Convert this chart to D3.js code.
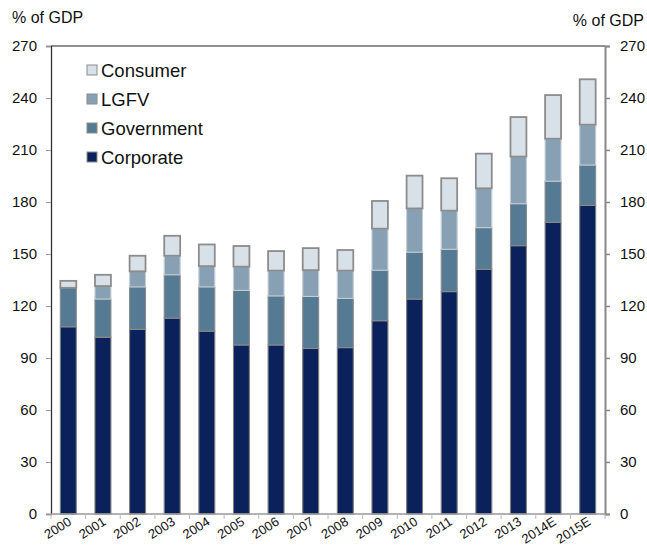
<!DOCTYPE html>
<html>
<head>
<meta charset="utf-8">
<script src="https://cdn.jsdelivr.net/npm/d3@7"></script>
<style>
  body { margin: 0; background: #fff; }
  text { font-family: "Liberation Sans", Arial, sans-serif; fill: #111; }
</style>
</head>
<body>
<div id="chart"></div>
<script>
// categories and series (% of GDP)
let years = ["2000", "2001", "2002", "2003", "2004", "2005", "2006", "2007",
  "2008", "2009", "2010", "2011", "2012", "2013", "2014E", "2015E"];
let corporate = [108, 102, 106.5, 113, 105.5, 97.5, 97.5, 95.5, 96, 111.5, 124, 128.3, 141.2, 154.8, 168.3, 178];
let government = [22.5, 22, 24.5, 25, 25.5, 31.5, 28.3, 30, 28.4, 29.1, 27, 24.4, 24, 24.2, 23.7, 23.3];
let lgfv = [0, 7.5, 9, 11, 12, 13.7, 14.6, 15.2, 16, 24, 25.3, 22.3, 22.7, 27.2, 24.5, 23.3];
let consumer = [4, 6.5, 9, 11.5, 12.5, 11.9, 11.3, 12.7, 11.9, 16, 18.9, 18.7, 20, 22.8, 25.2, 26.2];
let yTicks = [0, 30, 60, 90, 120, 150, 180, 210, 240, 270];

let seriesKeys = ["Corporate", "Government", "LGFV", "Consumer"];
let seriesColors = {
  Corporate: "#0b215c",
  Government: "#557a93",
  LGFV: "#87a0b3",
  Consumer: "#d9e1e8",
};
let seriesStroke = {
  Corporate: "#7f7f7f",
  Government: "#8a8a8a",
  LGFV: "#c4ced6",
  Consumer: "#8c8c8c",
};

let svgWidth = 647,
  svgHeight = 550;
let margin = { top: 46, right: 42, bottom: 36, left: 51 };
let chartWidth = svgWidth - margin.left - margin.right;
let chartHeight = svgHeight - margin.top - margin.bottom;

let svg = d3
  .select("#chart")
  .append("svg")
  .attr("width", svgWidth)
  .attr("height", svgHeight);

let chartGroup = svg
  .append("g")
  .attr("transform", `translate(${margin.left}, ${margin.top})`);

// build rows for the stack
let tableData = years.map((y, i) => ({
  year: y,
  Corporate: corporate[i],
  Government: government[i],
  LGFV: lgfv[i],
  Consumer: consumer[i],
}));

let stacked = d3.stack().keys(seriesKeys)(tableData);

let xScale = d3
  .scaleBand()
  .domain(years)
  .range([0, chartWidth])
  .paddingInner(0.54)
  .paddingOuter(0.27);

let yScale = d3.scaleLinear().domain([0, 270]).range([chartHeight, 0]);

// top border line
chartGroup
  .append("line")
  .attr("x1", 0)
  .attr("x2", chartWidth)
  .attr("y1", 0)
  .attr("y2", 0)
  .attr("stroke", "#222")
  .attr("stroke-width", 1.2);

// bars
let layers = chartGroup
  .selectAll(".layer")
  .data(stacked)
  .enter()
  .append("g")
  .attr("fill", (d) => seriesColors[d.key])
  .attr("stroke", (d) => seriesStroke[d.key])
  .attr("stroke-width", (d) => (d.key === "Consumer" ? 1.8 : 1.1));

layers
  .selectAll("rect")
  .data((d) => d.filter((p) => p[1] - p[0] > 0))
  .enter()
  .append("rect")
  .attr("x", (d) => xScale(d.data.year))
  .attr("width", xScale.bandwidth())
  .attr("y", (d) => yScale(d[1]))
  .attr("height", (d) => yScale(d[0]) - yScale(d[1]));

// left axis
let leftAxis = chartGroup
  .append("g")
  .call(d3.axisLeft(yScale).tickValues(yTicks).tickSize(5).tickPadding(9));
leftAxis.select(".domain").attr("stroke", "#333").attr("stroke-width", 1.3);
leftAxis.selectAll(".tick line").attr("stroke", "#999");
leftAxis.selectAll(".tick text").attr("font-size", "15px").attr("fill", "#111");

// right axis
let rightAxis = chartGroup
  .append("g")
  .attr("transform", `translate(${chartWidth}, 0)`)
  .call(d3.axisRight(yScale).tickValues(yTicks).tickSize(5).tickPadding(10));
rightAxis.select(".domain").attr("stroke", "#888").attr("stroke-width", 2);
rightAxis.selectAll(".tick line").attr("stroke", "#888").attr("stroke-width", 1.5);
rightAxis.selectAll(".tick text").attr("font-size", "15px").attr("fill", "#111");

// bottom axis: ticks at category boundaries
let bottomAxis = chartGroup
  .append("g")
  .attr("transform", `translate(0, ${chartHeight})`);
bottomAxis
  .append("line")
  .attr("x1", 0)
  .attr("x2", chartWidth)
  .attr("stroke", "#999")
  .attr("stroke-width", 1.3);
let step = xScale.step();
let firstEdge = xScale(years[0]) - xScale.paddingOuter() * step;
bottomAxis
  .selectAll(".btick")
  .data(d3.range(years.length + 1))
  .enter()
  .append("line")
  .attr("x1", (i) => firstEdge + i * step)
  .attr("x2", (i) => firstEdge + i * step)
  .attr("y1", 0)
  .attr("y2", 5)
  .attr("stroke", "#bbb");

bottomAxis
  .selectAll(".xlabel")
  .data(years)
  .enter()
  .append("text")
  .attr("text-anchor", "end")
  .attr("font-size", "13px")
  .attr("transform", (d) => `translate(${xScale(d) + xScale.bandwidth() / 2 + 4}, 10) rotate(-32)`)
  .text((d) => d);

// unit labels
svg.append("text").attr("x", 12).attr("y", 23).attr("font-size", "16px").text("% of GDP");
svg
  .append("text")
  .attr("x", 644)
  .attr("y", 26)
  .attr("text-anchor", "end")
  .attr("font-size", "16px")
  .text("% of GDP");

// legend
let legendKeys = ["Consumer", "LGFV", "Government", "Corporate"];
let legend = svg
  .selectAll(".legend")
  .data(legendKeys)
  .enter()
  .append("g")
  .attr("transform", (d, i) => `translate(87, ${70 + i * 29})`);
legend
  .append("rect")
  .attr("x", 0)
  .attr("y", -5)
  .attr("width", 10)
  .attr("height", 10)
  .attr("fill", (d) => seriesColors[d])
  .attr("stroke", "#8c8c8c")
  .attr("stroke-width", 1);
legend
  .append("text")
  .attr("x", 14)
  .attr("y", 6.5)
  .attr("font-size", "18.5px")
  .text((d) => d);
</script>
</body>
</html>
